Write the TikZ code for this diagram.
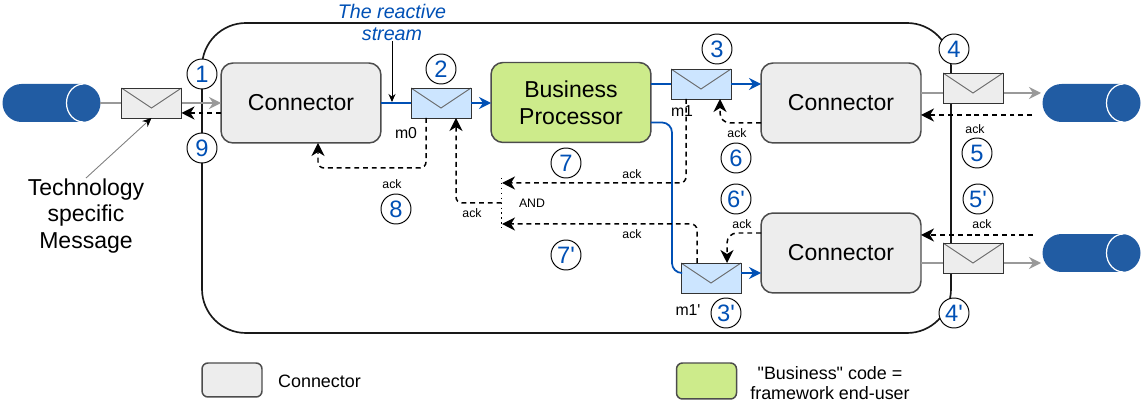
\documentclass[tikz,border=0pt]{standalone}
\usepackage{fontspec}
\setmainfont{Liberation Sans}
\newfontfamily\straightfont{Liberation Sans}
\usetikzlibrary{arrows.meta}
\definecolor{flowblue}{HTML}{0050B5}
\definecolor{pipeblue}{HTML}{215CA3}
\definecolor{conngray}{HTML}{EDEDED}
\definecolor{bizgreen}{HTML}{CDEB8B}
\definecolor{msgblue}{HTML}{CCE5FF}
\newcommand{\bigfont}{\fontsize{13.1}{15.3}\selectfont}
\newcommand{\ackfont}{\fontsize{7}{8.4}\selectfont}
\newcommand{\midfont}{\fontsize{9}{11}\selectfont}
\newcommand{\legfont}{\fontsize{10.2}{11.4}\selectfont}
\newcommand{\primemark}{{\straightfont'}}
\newcommand{\dblquote}{{\straightfont"}}
\tikzset{
	box/.style={draw=black!70, line width=0.85pt, rounded corners=0.24cm, outer sep=0pt,
		minimum width=3.2cm, minimum height=1.6cm, align=center, font=\bigfont},
	connbox/.style={box, fill=conngray},
	bizbox/.style={box, fill=bizgreen},
	envelope/.style={draw=black!80, line width=0.5pt, outer sep=0pt, inner sep=0pt,
		minimum width=1.2cm, minimum height=0.6cm,
		path picture={\draw[black!60, line width=0.5pt]
			(path picture bounding box.north west)
			-- ([yshift=-0.4cm]path picture bounding box.north)
			-- (path picture bounding box.north east);}},
	graymsg/.style={envelope, fill=conngray},
	bluemsg/.style={envelope, fill=msgblue},
	pipe/.style={rectangle, fill=pipeblue, rounded corners=0.38cm, outer sep=0pt, inner sep=0pt,
		minimum width=1.96cm, minimum height=0.76cm,
		path picture={\draw[white, line width=0.7pt]
			([xshift=-0.34cm]path picture bounding box.north east)
			arc[start angle=90, end angle=270, x radius=0.34cm, y radius=0.38cm];}},
	numcircle/.style={circle, draw=black, fill=white, line width=0.55pt, inner sep=0pt,
		minimum size=0.6cm, text=flowblue, font=\fontsize{13.5}{14}\selectfont},
	grayline/.style={draw=black!40, line width=1.1pt, -{Stealth[length=0.24cm, width=0.24cm, black!40!white]}},
	blueline/.style={draw=flowblue, line width=1pt, rounded corners=0.2cm},
	bluearrow/.style={blueline, -{Stealth[length=0.24cm, width=0.24cm]}},
	ackline/.style={draw=black, line width=0.85pt, dash pattern=on 2.8pt off 2.2pt, rounded corners=0.12cm,
		-{Stealth[length=0.26cm, width=0.26cm, inset=0.08cm]}},
	acklabel/.style={font=\ackfont, inner sep=0pt},
	msglabel/.style={font=\midfont, inner sep=0pt},
	x=0.02cm, y=-0.02cm
}
\begin{document}
\begin{tikzpicture}
	\useasboundingbox (0,0) rectangle (1142,401);

	% application frame
	\draw [black!90, line width=0.95pt, rounded corners=0.88cm] (202,23) rectangle (951,333);

	\node [connbox] (conleft) at (301,103) {Connector};
	\node [bizbox] (bizproc) at (571,102.5) {Business\\Processor};
	\node [connbox] (conright) at (841,103) {Connector};
	\node [connbox] (conrightb) at (841,253) {Connector};

	\node [pipe] (pipeleft) at (51.5,103) {};
	\node [pipe] (piperight) at (1091.5,103) {};
	\node [pipe] (piperightb) at (1091.5,253) {};

	\coordinate (tipright) at (1041,93);
	\coordinate (tiprightb) at (1041,263);
	\coordinate (ackright) at (1032,115);
	\coordinate (ackrightb) at (1033,235);
	\coordinate (streamtip) at (392,102);
	\coordinate (andtop) at (501.5,178);
	\coordinate (andmid) at (501.5,203);
	\coordinate (andbot) at (501.5,228);
	\coordinate (ackseven) at (502,183);
	\coordinate (acksevenb) at (502,224);

	\draw [grayline] (pipeleft.east) -- (conleft.west);
	\draw [grayline] ([yshift=0.2cm]conright.east) -- (tipright);
	\draw [grayline] ([yshift=-0.2cm]conrightb.east) -- (tiprightb);

	\node [graymsg] (envleft) at (151.5,103) {};
	\node [bluemsg] (envzero) at (441,103) {};
	\node [bluemsg] (envone) at (701,84) {};
	\node [bluemsg] (envoneb) at (711,278) {};
	\node [graymsg] (envfour) at (973,88) {};
	\node [graymsg] (envfourb) at (973,258) {};

	\draw [blueline] (conleft.east) -- (envzero.west);
	\draw [bluearrow] (envzero.east) -- (envzero.east -| bizproc.west);
	\draw [blueline] (envone.west -| bizproc.east) -- (envone.west);
	\draw [bluearrow] (envone.east) -- (envone.east -| conright.west);
	\draw [blueline] ([yshift=-0.4cm]bizproc.east) -- ++(21,0) |- ([yshift=0.1cm]envoneb.west);
	\draw [bluearrow] ([yshift=0.1cm]envoneb.east) -- ([yshift=0.1cm]envoneb.east -| conrightb.west);

	\draw [ackline] ([yshift=-0.2cm]conleft.west) -- ([yshift=-0.2cm]envleft.east);
	\draw [ackline] ([xshift=-0.3cm]envzero.south) -- ++(0,50) -| ([xshift=0.34cm]conleft.south);
	\draw [ackline] (andmid) -| ([xshift=0.3cm]envzero.south);
	\draw [ackline] ([xshift=-0.3cm]envone.south) |- (ackseven);
	\draw [ackline] ([xshift=-0.28cm]envoneb.north) |- (acksevenb);
	\draw [ackline, rounded corners=0.2cm] ([yshift=-0.4cm]conright.west) -| ([xshift=0.38cm]envone.south);
	\draw [ackline, rounded corners=0.2cm] ([yshift=0.4cm]conrightb.west) -| ([xshift=0.32cm]envoneb.north);
	\draw [ackline] (ackright) -- (ackright -| conright.east);
	\draw [ackline] (ackrightb) -- (ackrightb -| conrightb.east);
	\draw [black, line width=0.8pt, dotted] (andtop) -- (andbot);

	\node [numcircle] (numone) at (202,74) {1};
	\node [numcircle] (numtwo) at (441,69) {2};
	\node [numcircle] (numthree) at (717,49) {3};
	\node [numcircle] (numthreeb) at (726,313) {3\primemark};
	\node [numcircle] (numfour) at (954,49) {4};
	\node [numcircle] (numfourb) at (954,313) {4\primemark};
	\node [numcircle] (numfive) at (977,153) {5};
	\node [numcircle] (numfiveb) at (978,199) {5\primemark};
	\node [numcircle] (numsix) at (736,158) {6};
	\node [numcircle] (numsixb) at (736,199) {6\primemark};
	\node [numcircle] (numseven) at (566,163) {7};
	\node [numcircle] (numsevenb) at (566,255) {7\primemark};
	\node [numcircle] (numeight) at (396,209) {8};
	\node [numcircle] (numnine) at (202,148) {9};

	\node [acklabel] (ackeight) at (392,184) {ack};
	\node [acklabel] (ackand) at (472,213) {ack};
	\node [acklabel] (acktop) at (632,174) {ack};
	\node [acklabel] (ackbot) at (632,234) {ack};
	\node [acklabel] (acksix) at (737,133) {ack};
	\node [acklabel] (acksixb) at (742,224) {ack};
	\node [acklabel] (ackfive) at (975,129) {ack};
	\node [acklabel] (ackfiveb) at (982,224) {ack};
	\node [acklabel] (andtext) at (532,203.5) {AND};

	\node [msglabel] (labzero) at (406,133) {m0};
	\node [msglabel] (labone) at (682,111) {m1};
	\node [msglabel] (laboneb) at (688,310) {m1\primemark};

	\node [inner sep=0pt, align=center, text=flowblue, font=\fontsize{11.2}{13}\selectfont\itshape] (reactive) at (392,22.5) {The reactive\\stream};
	\draw [black, line width=0.5pt, -{Stealth[length=0.16cm, width=0.14cm]}] (reactive.south) -- (streamtip);

	\node [inner sep=0pt, align=center, font=\bigfont] (technote) at (86,216) {Technology\\specific\\Message};
	\draw [black!50, line width=0.5pt, -{Stealth[length=0.18cm, width=0.16cm, black]}] (technote.north) -- (envleft.south);

	% legend
	\node [connbox, minimum width=1.2cm, minimum height=0.68cm, rounded corners=0.12cm] (legconn) at (232,380) {};
	\node [inner sep=0pt, font=\legfont] (legconntext) at (319.5,381) {Connector};
	\node [bizbox, minimum width=1.2cm, minimum height=0.72cm, rounded corners=0.12cm] (legbiz) at (706.5,381) {};
	\node [inner sep=0pt, align=center, font=\legfont] (legbiztext) at (830,383) {\dblquote Business\dblquote{} code =\\framework end-user};
\end{tikzpicture}
\end{document}
